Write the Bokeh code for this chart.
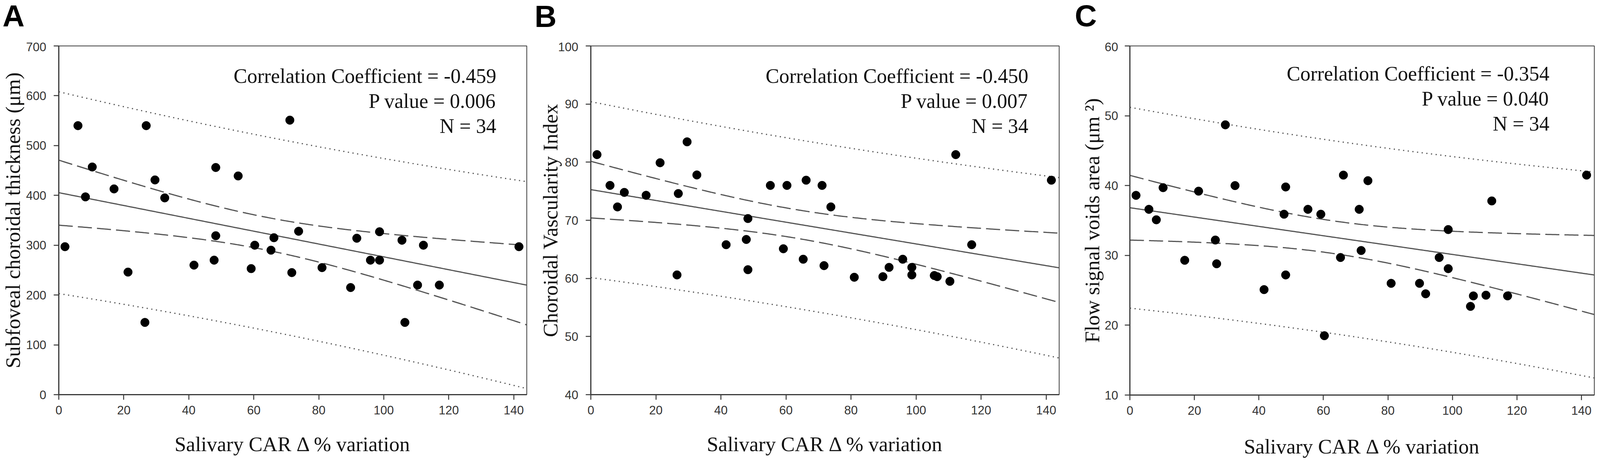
import numpy as np
from bokeh.plotting import figure
from bokeh.layouts import row, column
from bokeh.models import FixedTicker, Range1d
from bokeh.core.properties import value
from bokeh.embed import file_html
from bokeh.resources import INLINE

# ---------------- data ----------------
car_delta = [1.9, 5.9, 8.2, 10.3, 17.0, 21.3, 26.5, 26.9, 29.6, 32.6, 41.6, 47.8,
             48.3, 48.3, 55.2, 59.2, 60.3, 65.3, 66.2, 71.1, 71.7, 73.8, 81.0, 89.8,
             91.7, 95.9, 98.7, 98.7, 105.6, 106.5, 110.4, 112.2, 117.1, 141.6]

sfct = [297, 540, 397, 457, 413, 246, 145, 540, 431, 395, 260, 270,
        319, 456, 439, 253, 300, 290, 315, 551, 245, 328, 255, 215,
        314, 270, 327, 270, 310, 145, 220, 300, 220, 297]

cvi = [81.3, 76.0, 72.3, 74.8, 74.3, 79.9, 60.6, 74.6, 83.5, 77.8, 65.8, 66.7,
       70.3, 61.5, 76.0, 65.1, 76.0, 63.3, 76.9, 76.0, 62.2, 72.3, 60.2, 60.3,
       61.9, 63.3, 61.9, 60.6, 60.5, 60.3, 59.5, 81.3, 65.8, 76.9]

fsv = [38.6, 36.6, 35.1, 39.7, 29.3, 39.2, 32.2, 28.8, 48.7, 40.0, 25.1, 35.9,
       39.8, 27.2, 36.6, 35.9, 18.5, 29.7, 41.5, 36.6, 30.7, 40.7, 26.0, 26.0,
       24.5, 29.7, 33.7, 28.1, 22.7, 24.2, 24.3, 37.8, 24.2, 41.5]

panel_letters = ["A", "B", "C"]
y_titles = ["Subfoveal choroidal thickness (μm)", "Choroidal Vascularity Index",
            "Flow signal voids area (μm ²)"]
x_title = "Salivary CAR Δ % variation"
corr_coef = ["-0.459", "-0.450", "-0.354"]
p_values = ["0.006", "0.007", "0.040"]
n_obs = 34
x_ticks = [0, 20, 40, 60, 80, 100, 120, 140]
y_ticks = [[0, 100, 200, 300, 400, 500, 600, 700],
           [40, 50, 60, 70, 80, 90, 100],
           [10, 20, 30, 40, 50, 60]]
series = [sfct, cvi, fsv]

T_975_DF32 = 2.0369  # Student t, 95 %, n-2 = 32 d.f.

SERIF = "Liberation Serif"
SANS = "Liberation Sans"
AX = "#3a3a3a"
LINE = "#555555"

TOTAL_H = 1176
LETTER_H = 108   # strip above the panels holding the panel letters

layouts = [
    dict(left=146, right=16, top=117, fw=1198, fh=892,
         ylab_standoff=2, ylab_tick_standoff=19, xlab_standoff=44,
         ann_dx=1120, ann_dy=[77, 141, 205]),
    dict(left=148, right=33, top=117, fw=1199, fh=892,
         ylab_standoff=-12, ylab_tick_standoff=19, xlab_standoff=44,
         ann_dx=1120, ann_dy=[77, 141, 205]),
    dict(left=148, right=9, top=111, fw=1189, fh=893,
         ylab_standoff=0, ylab_tick_standoff=17, xlab_standoff=49,
         ann_dx=1074, ann_dy=[71, 135, 199]),
]
TOTAL_W = sum(L["left"] + L["fw"] + L["right"] for L in layouts)
letter_px_x = [6, 1368, 2751]      # left edge of each letter in the strip
letter_px_base = [40, 41, 39]      # anchor, from the strip top

X_RANGE = (0, 144)


def bands(x, y, xs):
    x = np.asarray(x, float)
    y = np.asarray(y, float)
    n = len(x)
    b, a = np.polyfit(x, y, 1)
    yhat = a + b * xs
    resid = y - (a + b * x)
    s = np.sqrt(np.sum(resid ** 2) / (n - 2))
    sxx = np.sum((x - x.mean()) ** 2)
    se_fit = s * np.sqrt(1.0 / n + (xs - x.mean()) ** 2 / sxx)
    se_pred = s * np.sqrt(1.0 + 1.0 / n + (xs - x.mean()) ** 2 / sxx)
    return yhat, T_975_DF32 * se_fit, T_975_DF32 * se_pred


def letter_strip():
    q = figure(width=TOTAL_W, height=LETTER_H, x_range=Range1d(0, TOTAL_W),
               y_range=Range1d(0, LETTER_H), min_border=0,
               min_border_left=0, min_border_right=0,
               min_border_top=0, min_border_bottom=0,
               x_axis_location=None, y_axis_location=None,
               output_backend="svg", toolbar_location=None,
               background_fill_color="white", border_fill_color="white")
    q.grid.visible = False
    q.outline_line_color = None
    q.text(x=letter_px_x, y=[LETTER_H - b for b in letter_px_base],
           text=panel_letters, text_font=value(SANS),
           text_font_size=value("78px"), text_font_style="bold",
           text_color="black", text_align="left", text_baseline="alphabetic")
    return q


def make_panel(i):
    L = layouts[i]
    yt = y_ticks[i]
    ymin, ymax = yt[0], yt[-1]
    xmin, xmax = X_RANGE
    top = L["top"] - LETTER_H
    bottom = TOTAL_H - L["top"] - L["fh"]
    p = figure(frame_width=L["fw"], frame_height=L["fh"],
               min_border_left=L["left"], min_border_right=L["right"],
               min_border_top=top, min_border_bottom=bottom,
               x_range=Range1d(xmin, xmax), y_range=Range1d(ymin, ymax),
               output_backend="svg", toolbar_location=None,
               background_fill_color="white", border_fill_color="white")
    p.grid.visible = False
    p.outline_line_color = AX
    p.outline_line_width = 2

    for ax in (p.xaxis[0], p.yaxis[0]):
        ax.axis_line_color = AX
        ax.axis_line_width = 3
        ax.major_tick_line_color = AX
        ax.major_tick_line_width = 2.5
        ax.major_tick_in = 0
        ax.major_tick_out = 13
        ax.minor_tick_line_color = None
        ax.major_label_text_font = SANS
        ax.major_label_text_font_size = "31px"
        ax.major_label_text_color = "#333333"
        ax.axis_label_text_font = SERIF
        ax.axis_label_text_font_size = "53px"
        ax.axis_label_text_font_style = "normal"
        ax.axis_label_text_color = "#111111"

    p.xaxis.ticker = FixedTicker(ticks=x_ticks)
    p.yaxis.ticker = FixedTicker(ticks=yt)
    p.xaxis.major_label_standoff = 15
    p.yaxis.major_label_standoff = L["ylab_tick_standoff"]
    p.xaxis.axis_label = x_title
    p.yaxis.axis_label = y_titles[i]
    p.xaxis.axis_label_standoff = L["xlab_standoff"]
    p.yaxis.axis_label_standoff = L["ylab_standoff"]

    xs = np.linspace(xmin, xmax, 300)
    yhat, cf, pr = bands(car_delta, series[i], xs)
    p.line(xs, yhat + pr, line_color=LINE, line_width=3, line_dash="3 9")
    p.line(xs, yhat - pr, line_color=LINE, line_width=3, line_dash="3 9")
    p.line(xs, yhat + cf, line_color=LINE, line_width=3, line_dash="36 13")
    p.line(xs, yhat - cf, line_color=LINE, line_width=3, line_dash="36 13")
    p.line(xs, yhat, line_color=LINE, line_width=3)

    p.scatter(car_delta, series[i], size=22, marker="circle",
              fill_color="black", line_color="black")

    sx = (xmax - xmin) / L["fw"]
    sy = (ymax - ymin) / L["fh"]
    texts = [f"Correlation Coefficient = {corr_coef[i]}",
             f"P value = {p_values[i]}",
             f"N = {n_obs}"]
    p.text(x=[xmin + L["ann_dx"] * sx] * 3,
           y=[ymax - dy * sy for dy in L["ann_dy"]],
           text=texts, text_font=value(SERIF), text_font_size=value("52px"),
           text_color="#111111", text_align="right", text_baseline="alphabetic")
    return p


panels = [make_panel(i) for i in range(3)]
layout = column(letter_strip(), row(*panels))
open("out.html", "w").write(file_html(layout, INLINE))
